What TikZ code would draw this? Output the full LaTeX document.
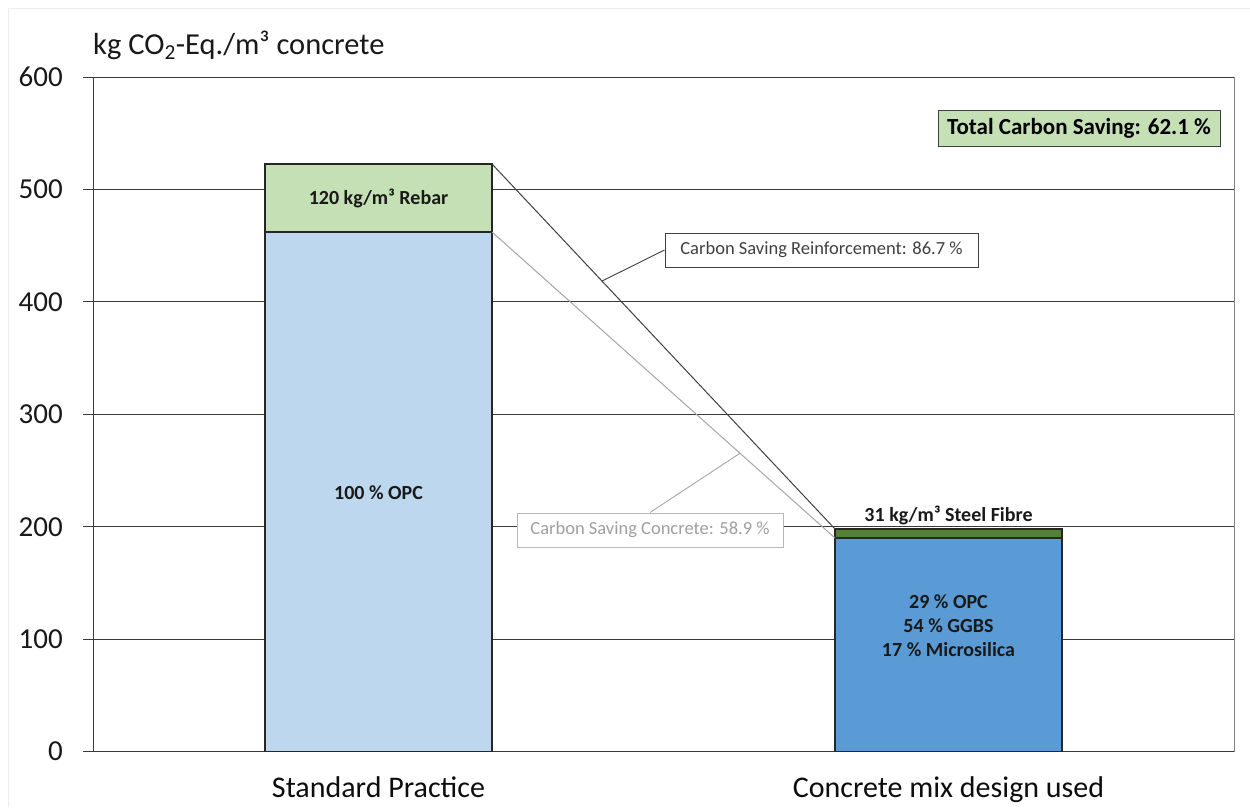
\documentclass[tikz,border=0pt]{standalone}
\usepackage{fontspec}
\setmainfont{Carlito}
\definecolor{opcblue}{HTML}{BDD7EE}
\definecolor{rebargreen}{HTML}{C5E0B4}
\definecolor{mixblue}{HTML}{5B9BD5}
\definecolor{fibregreen}{HTML}{548235}
\definecolor{gridgray}{HTML}{3A3A3A}
\definecolor{lightline}{HTML}{A6A6A6}
\definecolor{concgray}{HTML}{A0A0A0}
\definecolor{reinfgray}{HTML}{404040}
\definecolor{framegray}{HTML}{EDEDED}
\tikzset{
  gridln/.style={draw=gridgray, line width=1pt},
  barbox/.style={draw=black!85, line width=1.1pt, minimum width=227pt, inner sep=0pt, outer sep=0pt},
  barlbl/.style={font=\bfseries\fontsize{20}{23}\selectfont, text=black!90, inner sep=0pt, anchor=base},
  ticklbl/.style={font=\fontsize{29}{32}\selectfont, text=black!90, inner sep=0pt, anchor=east},
  catlbl/.style={font=\fontsize{30}{34}\selectfont, text=black!95, inner sep=0pt, anchor=base},
  callout/.style={line width=1pt, fill=white, inner sep=0pt, minimum height=34pt, font=\fontsize{18.5}{22}\selectfont},
  totalbox/.style={draw=reinfgray, line width=1pt, fill=rebargreen, inner sep=0pt, minimum width=282pt, minimum height=36pt, font=\bfseries\fontsize{23}{26}\selectfont},
}
\begin{document}
\begin{tikzpicture}[x=1pt,y=-1pt]
\useasboundingbox (0,0) rectangle (1250,807);
\fill[white] (0,0) rectangle (1250,807);
% faint outer frame
\draw[framegray, line width=1pt] (8,807) -- (8,8) -- (1250,8);

% gridlines and tick labels
\foreach \v/\yy in {0/751.5,100/639.1,200/526.7,300/414.3,400/301.9,500/189.5,600/77.1}{
  \draw[gridln] (83,\yy) -- (1234,\yy);
  \node[ticklbl] (tick\v) at (63,\yy) {\v};
}
\draw[gridln] (93,77.1) -- (93,751.5);
\draw[draw=gray, line width=1pt] (1234,77.1) -- (1234,751.5);

% axis title
\node[font=\fontsize{30.5}{34}\selectfont, text=black!90, inner sep=0pt, anchor=base west] (ytitle) at (93,54) {kg CO\textsubscript{2}-Eq./m³ concrete};

% bars
\node[barbox, fill=opcblue, minimum height=519.5pt] (opc) at (378.5,491.75) {};
\node[barbox, fill=rebargreen, minimum height=68pt] (rebar) at (378.5,198) {};
\node[barbox, fill=mixblue, minimum height=213.5pt] (mix) at (948.5,644.75) {};
\node[barbox, fill=fibregreen, minimum height=9pt] (fibre) at (948.5,533.5) {};

% bar labels
\node[barlbl] (opclbl) at (378.5,499) {100 \% OPC};
\node[barlbl] (rebarlbl) at (378.5,204) {120 kg/m³ Rebar};
\node[barlbl] (fibrelbl) at (948.5,521) {31 kg/m³ Steel Fibre};
\node[barlbl] (mixlbl1) at (948.5,608) {29 \% OPC};
\node[barlbl] (mixlbl2) at (948.5,632) {54 \% GGBS};
\node[barlbl] (mixlbl3) at (948.5,656) {17 \% Microsilica};

% saving lines
\draw[reinfgray, line width=1pt] (rebar.north east) -- (fibre.north west);
\draw[lightline, line width=1pt] (rebar.south east) -- (fibre.south west);
\path (rebar.north east) -- (fibre.north west) coordinate[pos=0.3207] (rlp);
\path (rebar.south east) -- (fibre.south west) coordinate[pos=0.723] (clp);

% callouts
\node[callout, draw=reinfgray, text=reinfgray, minimum width=313pt] (reinfbox) at (821.5,250) {Carbon Saving Reinforcement: 86.7 \%};
\node[callout, draw=lightline!80, text=concgray, minimum width=266pt] (concbox) at (650,530) {Carbon Saving Concrete: 58.9 \%};
\draw[reinfgray, line width=0.9pt] (reinfbox.west) -- (rlp);
\draw[lightline, line width=0.9pt] (concbox.north) -- (clp);

\node[totalbox] (total) at (1079,128) {Total Carbon Saving: 62.1 \%};

% category labels
\node[catlbl] (cat1) at (378.5,797.5) {Standard Practice};
\node[catlbl] (cat2) at (948.5,797.5) {Concrete mix design used};
\end{tikzpicture}
\end{document}
